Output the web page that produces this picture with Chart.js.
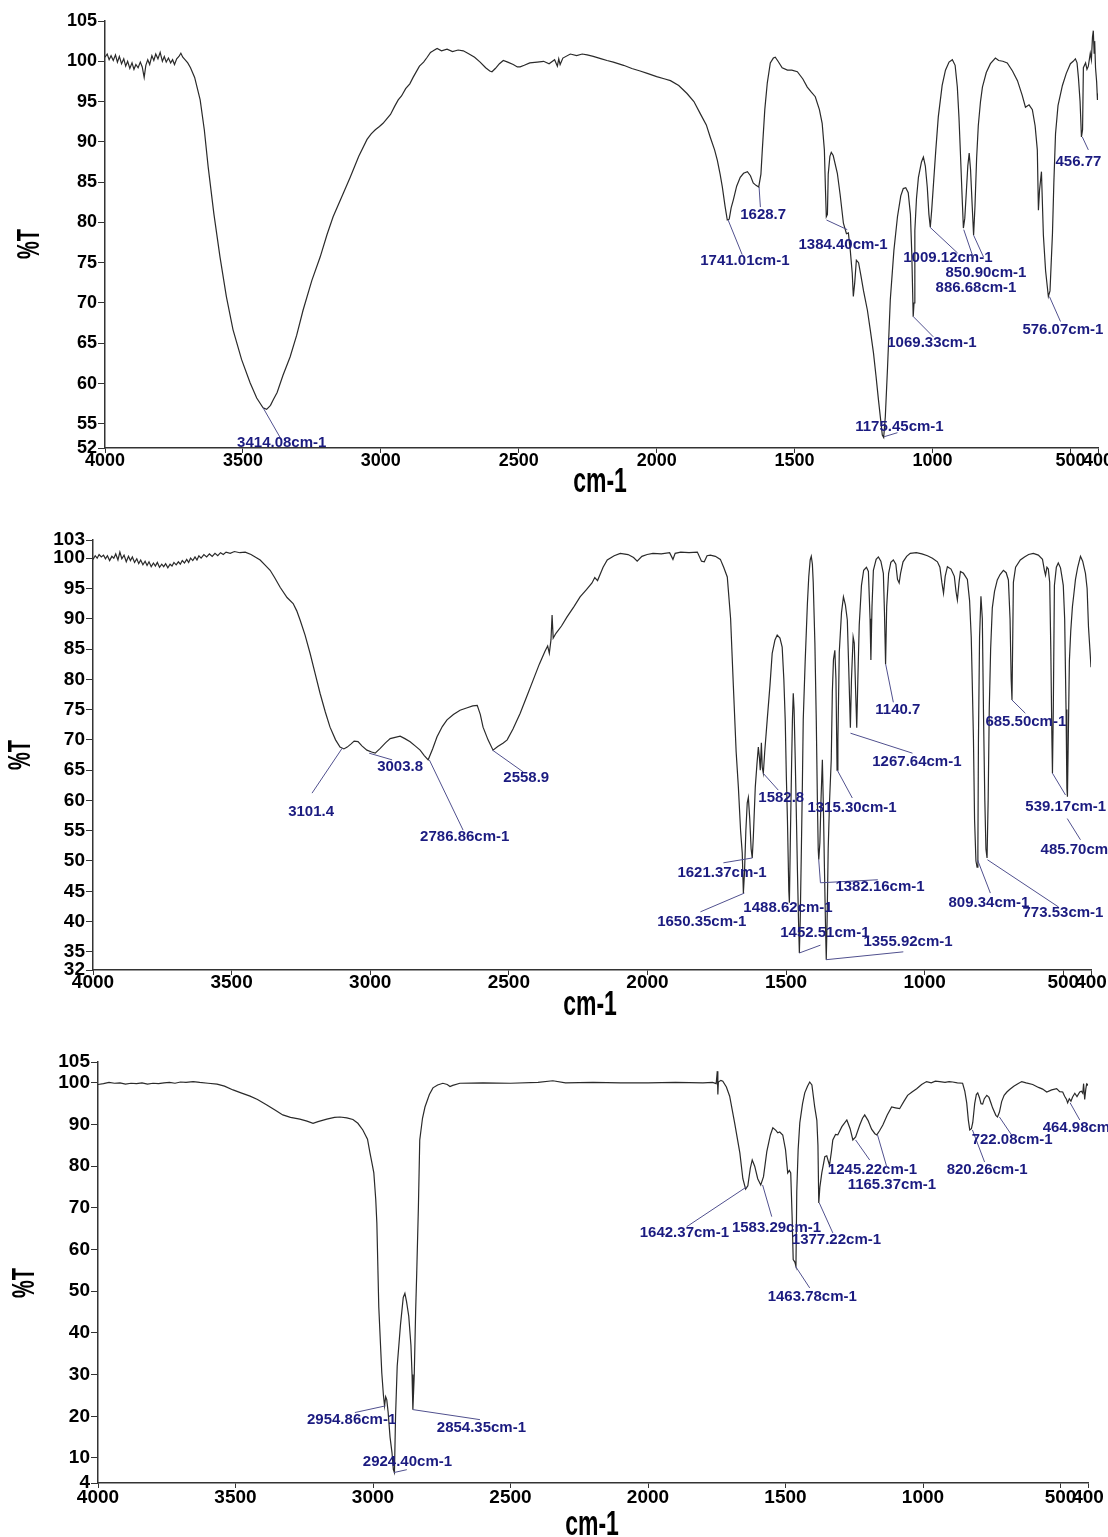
<!DOCTYPE html>
<html>
<head>
<meta charset="utf-8">
<title>FTIR spectra</title>
<script src="https://cdn.jsdelivr.net/npm/chart.js@4.4.1/dist/chart.umd.min.js"></script>
<style>
  html, body { margin: 0; padding: 0; background: #fff; }
  .panel { position: absolute; left: 0; width: 1108px; }
</style>
</head>
<body>
<div class="panel" style="top:0px"><canvas id="ir1" width="1108" height="512"></canvas></div>
<div class="panel" style="top:520px"><canvas id="ir2" width="1108" height="520"></canvas></div>
<div class="panel" style="top:1040px"><canvas id="ir3" width="1108" height="497"></canvas></div>
<script>
// x axis (wavenumber, cm-1) tick labels, shared by all three spectra
const xTicks = [4000, 3500, 3000, 2500, 2000, 1500, 1000, 500, 400];

// y axis (%T) ticks of each panel
const yTicks1 = [52, 55, 60, 65, 70, 75, 80, 85, 90, 95, 100, 105];
const yTicks2 = [32, 35, 40, 45, 50, 55, 60, 65, 70, 75, 80, 85, 90, 95, 100, 103];
const yTicks3 = [4, 10, 20, 30, 40, 50, 60, 70, 80, 90, 100, 105];

// spectrum 1: [wavenumber, %T]
const spectrum1 = [
  [4000,100.5],[3992,100.9],[3985,100.2],[3978,100.7],[3970,100.1],[3962,100.8],[3955,99.9],[3948,100.6],
  [3940,99.7],[3932,100.3],[3925,99.4],[3918,100.0],[3910,99.1],[3902,99.8],[3895,99.0],[3888,99.6],
  [3880,99.2],[3872,99.9],[3865,99.3],[3858,98.0],[3852,99.5],[3845,100.2],[3838,99.6],[3830,100.7],
  [3823,100.1],[3816,100.9],[3808,100.3],[3800,101.1],[3792,100.0],[3785,100.6],[3778,99.9],[3770,100.4],
  [3762,99.8],[3755,100.2],[3748,99.6],[3740,100.3],[3732,100.6],[3725,101.0],[3718,100.5],[3710,100.2],
  [3700,99.8],[3690,99.2],[3675,98.0],[3655,95.2],[3640,91.5],[3626,86.9],[3605,81.0],[3583,75.7],
  [3560,70.8],[3536,66.7],[3505,63.0],[3474,60.1],[3450,58.2],[3427,57.0],[3414,56.8],[3400,57.3],
  [3390,58.0],[3376,58.9],[3355,61.0],[3329,63.3],[3305,66.0],[3282,69.1],[3250,72.8],[3220,75.7],
  [3195,78.5],[3173,80.7],[3140,83.3],[3111,85.6],[3080,88.2],[3050,90.3],[3035,91.0],[3020,91.5],
  [3005,91.9],[2992,92.3],[2980,92.8],[2965,93.4],[2950,94.4],[2937,95.2],[2925,95.7],[2910,96.6],
  [2895,97.2],[2883,98.0],[2860,99.4],[2845,99.9],[2832,100.5],[2820,101.1],[2810,101.3],[2796,101.6],
  [2780,101.3],[2760,101.5],[2740,101.2],[2720,101.4],[2701,101.3],[2680,100.9],[2660,100.5],[2640,99.9],
  [2620,99.2],[2605,98.8],[2597,98.7],[2585,99.1],[2570,99.7],[2556,100.1],[2540,99.9],[2520,99.6],
  [2505,99.3],[2495,99.3],[2480,99.5],[2460,99.8],[2433,99.9],[2410,100.0],[2390,99.7],[2370,100.2],
  [2360,99.4],[2355,100.3],[2350,99.6],[2340,100.4],[2313,100.9],[2290,100.7],[2270,100.9],[2252,100.8],
  [2230,100.6],[2200,100.3],[2180,100.1],[2157,99.9],[2120,99.5],[2090,99.1],[2060,98.8],[2034,98.5],
  [2000,98.1],[1970,97.8],[1950,97.6],[1920,97.0],[1890,96.0],[1865,95.0],[1842,93.5],[1820,92.1],
  [1806,90.6],[1790,89.0],[1780,87.7],[1770,86.0],[1762,84.4],[1752,82.0],[1744,80.3],[1737,80.4],
  [1730,81.8],[1722,82.8],[1710,84.5],[1697,85.6],[1685,86.1],[1671,86.3],[1660,85.8],[1650,84.9],
  [1640,84.6],[1630,84.4],[1622,86.0],[1617,89.0],[1608,94.0],[1599,97.3],[1588,99.8],[1577,100.4],
  [1570,100.5],[1560,100.0],[1545,99.2],[1526,98.9],[1510,98.9],[1490,98.7],[1470,97.8],[1454,96.8],
  [1440,96.2],[1425,95.6],[1410,94.0],[1400,92.3],[1392,89.0],[1388,84.0],[1385,80.7],[1381,81.0],
  [1378,86.0],[1372,88.2],[1367,88.7],[1360,88.3],[1345,86.1],[1335,83.5],[1323,79.9],[1312,78.6],
  [1305,78.7],[1298,76.5],[1291,73.7],[1287,70.8],[1282,72.5],[1276,75.3],[1268,75.0],[1260,73.5],
  [1250,71.5],[1236,69.1],[1225,66.5],[1214,63.8],[1205,61.0],[1196,58.0],[1188,55.5],[1182,53.6],
  [1177,53.3],[1171,55.9],[1163,62.0],[1153,70.4],[1140,76.5],[1127,80.7],[1115,83.3],[1106,84.2],
  [1097,84.3],[1088,83.7],[1080,81.0],[1075,76.0],[1070,68.3],[1067,70.0],[1064,79.0],[1058,83.0],
  [1051,85.6],[1040,87.5],[1033,88.1],[1026,87.0],[1019,84.4],[1013,81.0],[1008,79.4],[1003,81.5],
  [997,84.5],[988,89.0],[979,93.1],[965,97.0],[953,98.9],[940,99.9],[928,100.2],[918,99.5],
  [910,96.8],[904,93.0],[899,88.8],[893,83.5],[888,79.3],[883,80.5],[877,84.0],[872,87.0],
  [867,88.6],[862,86.5],[856,82.0],[851,78.4],[846,82.0],[840,88.0],[834,92.0],[826,95.0],
  [819,96.8],[805,98.6],[790,99.7],[772,100.4],[760,100.1],[745,100.0],[729,99.8],[710,98.8],
  [692,97.6],[675,95.8],[663,94.3],[650,94.6],[638,94.0],[628,92.0],[620,89.0],[616,81.5],
  [612,84.0],[605,86.3],[598,78.4],[590,74.0],[580,70.8],[574,71.5],[565,78.7],[560,85.0],
  [554,91.0],[545,94.5],[529,97.0],[515,98.5],[500,99.7],[490,100.0],[482,100.3],[476,99.8],
  [471,98.0],[465,95.0],[460,90.6],[456,91.5],[453,99.2],[445,99.8],[440,99.0],[435,99.4],
  [428,101.0],[424,100.2],[420,103.0],[417,103.8],[414,101.0],[412,102.5],[409,99.2],[405,97.5],
  [402,95.2],[400,96.0]
];

// spectrum 2: [wavenumber, %T]
const spectrum2 = [
  [4000,99.8],[3992,100.4],[3985,100.0],[3978,100.6],[3970,100.2],[3962,100.5],[3955,99.9],[3948,100.4],
  [3940,99.6],[3932,100.3],[3925,100.0],[3918,100.7],[3910,99.7],[3903,101.0],[3896,99.9],[3888,100.5],
  [3880,99.4],[3872,100.3],[3865,99.6],[3858,100.2],[3850,99.3],[3842,99.9],[3835,99.1],[3828,99.7],
  [3820,98.9],[3812,99.5],[3805,98.8],[3798,99.4],[3790,98.6],[3782,99.2],[3775,98.7],[3768,99.3],
  [3760,98.5],[3752,99.0],[3745,98.6],[3738,99.1],[3730,98.4],[3722,99.0],[3715,98.7],[3708,99.3],
  [3700,98.9],[3692,99.4],[3685,99.0],[3678,99.6],[3670,99.2],[3662,99.8],[3655,99.3],[3648,100.0],
  [3640,99.6],[3632,100.2],[3625,99.7],[3618,100.4],[3610,100.0],[3600,100.6],[3590,100.2],[3580,100.7],
  [3570,100.3],[3560,100.8],[3550,100.4],[3540,100.9],[3530,100.6],[3520,101.0],[3505,100.8],[3490,101.1],
  [3470,100.9],[3451,101.0],[3430,100.6],[3415,100.2],[3397,99.7],[3380,98.9],[3361,98.0],[3345,96.8],
  [3325,95.2],[3300,93.5],[3278,92.5],[3265,91.3],[3253,89.8],[3235,87.3],[3217,84.3],[3200,81.2],
  [3181,77.7],[3162,74.6],[3145,72.1],[3125,70.0],[3109,68.8],[3095,68.5],[3083,68.8],[3070,69.3],
  [3058,69.8],[3044,69.7],[3030,69.0],[3012,68.3],[2995,68.0],[2982,67.8],[2964,68.6],[2945,69.5],
  [2928,70.2],[2910,70.4],[2892,70.6],[2875,70.2],[2856,69.7],[2838,69.0],[2820,68.3],[2805,67.4],
  [2791,66.7],[2775,68.5],[2759,70.5],[2740,72.2],[2723,73.3],[2700,74.2],[2676,74.9],[2650,75.3],
  [2630,75.6],[2614,75.7],[2603,74.2],[2593,72.1],[2575,70.0],[2557,68.3],[2540,68.9],[2520,69.5],
  [2506,70.0],[2485,71.8],[2459,74.4],[2435,77.2],[2412,79.9],[2390,82.5],[2370,84.6],[2360,85.5],
  [2354,84.3],[2348,86.5],[2344,90.6],[2340,86.8],[2330,87.6],[2310,88.8],[2290,90.3],[2265,92.0],
  [2243,93.6],[2220,94.8],[2200,95.9],[2190,96.8],[2180,96.3],[2160,98.5],[2145,99.7],[2120,100.4],
  [2098,100.8],[2070,100.6],[2050,100.1],[2037,99.5],[2020,100.3],[2001,100.6],[1980,100.8],[1950,100.7],
  [1920,100.9],[1908,99.8],[1900,100.8],[1880,101.0],[1850,100.9],[1820,101.0],[1805,99.5],[1795,99.4],
  [1785,100.4],[1773,100.5],[1755,100.3],[1737,99.8],[1725,98.5],[1712,96.9],[1700,90.0],[1690,78.8],
  [1680,68.0],[1672,62.2],[1664,55.0],[1658,51.3],[1654,44.7],[1650,48.0],[1645,55.0],[1640,59.6],
  [1636,60.5],[1631,57.0],[1626,52.0],[1622,50.5],[1618,54.0],[1611,62.2],[1605,66.0],[1600,68.8],
  [1596,67.0],[1593,65.0],[1589,69.5],[1586,65.5],[1582,64.5],[1577,68.0],[1568,73.3],[1558,79.0],
  [1550,84.3],[1540,86.5],[1532,87.3],[1522,86.8],[1514,85.3],[1508,80.0],[1503,73.3],[1499,64.0],
  [1495,56.8],[1490,45.0],[1488,43.1],[1484,55.0],[1480,66.0],[1477,73.3],[1474,77.7],[1471,75.0],
  [1467,67.0],[1463,58.0],[1459,48.5],[1455,40.0],[1452,34.8],[1449,40.0],[1445,51.2],[1441,63.0],
  [1438,73.3],[1431,83.0],[1423,92.5],[1418,97.0],[1413,99.7],[1409,100.3],[1405,99.0],[1402,96.0],
  [1396,86.0],[1391,73.3],[1387,60.0],[1384,52.0],[1382,50.2],[1378,53.0],[1374,60.0],[1369,66.7],
  [1365,58.0],[1362,50.0],[1358,40.0],[1355,33.7],[1352,40.0],[1348,52.0],[1343,60.0],[1337,66.7],
  [1333,78.0],[1329,83.2],[1324,84.8],[1320,80.0],[1316,65.0],[1313,70.0],[1308,84.5],[1300,91.0],
  [1293,93.6],[1286,92.3],[1279,89.8],[1274,82.0],[1268,72.0],[1264,80.0],[1258,87.0],[1254,86.0],
  [1249,78.0],[1245,72.0],[1241,80.0],[1236,89.0],[1228,95.5],[1220,98.0],[1210,98.5],[1203,97.8],
  [1197,90.0],[1194,83.2],[1190,92.0],[1185,98.0],[1175,99.8],[1167,100.2],[1158,99.5],[1149,97.5],
  [1145,91.0],[1141,82.5],[1137,92.0],[1130,97.5],[1122,99.3],[1113,99.7],[1104,99.0],[1098,96.5],
  [1092,95.9],[1087,97.5],[1078,99.4],[1065,100.3],[1052,100.8],[1030,100.9],[1010,100.7],[990,100.4],
  [972,100.0],[954,99.4],[945,98.5],[938,96.0],[932,94.2],[926,97.0],[918,98.6],[905,98.2],
  [893,97.0],[887,94.5],[882,93.1],[876,96.0],[871,97.8],[860,97.5],[846,96.5],[838,93.0],
  [832,87.0],[828,78.8],[824,70.0],[820,56.8],[815,50.0],[811,49.0],[808,52.0],[806,70.0],
  [802,87.0],[797,93.7],[792,90.0],[788,75.0],[783,60.0],[779,52.0],[775,50.5],[771,60.0],
  [767,75.0],[762,85.0],[756,91.8],[748,94.5],[738,96.4],[728,97.3],[716,98.0],[706,97.6],
  [698,96.4],[692,90.0],[688,80.0],[685,76.6],[682,88.0],[680,96.0],[672,98.5],[655,99.7],
  [640,100.2],[625,100.6],[608,100.8],[590,100.5],[575,99.8],[568,98.0],[564,97.2],[559,98.5],
  [554,98.2],[549,96.0],[545,85.0],[541,70.0],[539,64.5],[536,75.0],[532,95.5],[525,98.5],
  [518,99.2],[510,98.4],[505,97.0],[500,95.5],[495,90.0],[490,75.0],[487,62.0],[485,60.6],
  [482,70.0],[478,83.0],[473,88.0],[467,92.0],[462,94.0],[456,96.5],[448,98.5],[438,100.3],
  [430,99.5],[420,97.5],[414,95.0],[409,88.6],[404,85.0],[400,82.0]
];

// spectrum 3: [wavenumber, %T]
const spectrum3 = [
  [4000,99.6],[3980,99.8],[3960,100.1],[3940,99.9],[3920,100.0],[3900,99.7],[3880,99.9],[3860,99.8],
  [3840,100.0],[3820,99.7],[3800,99.9],[3780,99.8],[3760,100.0],[3740,100.1],[3720,99.9],[3700,100.2],
  [3680,100.1],[3654,100.3],[3630,100.1],[3600,99.9],[3567,99.7],[3540,99.2],[3509,98.3],[3480,97.6],
  [3447,96.8],[3420,96.0],[3386,94.7],[3355,93.4],[3328,92.3],[3300,91.7],[3266,91.3],[3240,90.8],
  [3218,90.3],[3200,90.7],[3168,91.3],[3140,91.7],[3120,91.8],[3095,91.6],[3073,91.2],[3055,90.3],
  [3037,88.7],[3020,86.5],[3011,83.2],[3003,80.5],[2997,78.4],[2990,72.0],[2986,66.4],[2979,46.3],
  [2968,30.4],[2962,25.0],[2958,22.5],[2954,24.7],[2950,24.0],[2945,21.0],[2938,15.0],[2931,11.3],
  [2926,7.2],[2922,6.5],[2918,20.0],[2912,32.0],[2900,42.0],[2890,48.5],[2884,49.5],[2878,47.5],
  [2870,44.0],[2862,37.0],[2858,30.0],[2855,21.6],[2850,30.0],[2845,45.0],[2841,54.4],[2835,70.0],
  [2830,86.3],[2820,91.5],[2811,94.2],[2795,97.2],[2782,98.8],[2765,99.5],[2746,99.9],[2730,99.6],
  [2720,99.1],[2710,99.4],[2684,99.9],[2600,100.0],[2500,99.9],[2400,100.1],[2346,100.5],[2300,100.0],
  [2200,100.1],[2100,100.0],[2000,100.0],[1900,100.1],[1800,100.0],[1765,100.1],[1752,99.8],[1748,102.8],
  [1746,97.2],[1744,100.2],[1735,100.6],[1728,100.4],[1715,99.0],[1703,96.8],[1685,90.4],[1666,83.2],
  [1655,77.0],[1645,74.5],[1637,75.3],[1628,79.5],[1621,81.5],[1612,80.0],[1601,77.0],[1590,75.5],
  [1580,77.5],[1568,83.5],[1555,87.5],[1546,89.2],[1535,88.6],[1528,88.0],[1521,88.2],[1510,87.5],
  [1500,84.0],[1492,78.4],[1486,79.0],[1481,78.4],[1476,68.0],[1472,57.6],[1466,57.0],[1462,56.0],
  [1459,74.0],[1454,84.0],[1448,90.4],[1438,95.0],[1430,97.6],[1420,99.2],[1412,100.2],[1404,99.5],
  [1394,94.3],[1386,91.0],[1382,85.0],[1379,71.2],[1375,75.0],[1368,78.4],[1362,80.5],[1357,82.3],
  [1350,82.5],[1340,80.2],[1333,83.5],[1328,86.3],[1318,87.6],[1310,87.5],[1295,89.5],[1277,91.1],
  [1265,89.0],[1255,86.3],[1245,87.0],[1230,89.9],[1220,91.5],[1212,92.3],[1200,91.0],[1187,88.9],
  [1175,87.8],[1168,87.5],[1158,88.5],[1146,89.9],[1130,92.3],[1114,94.2],[1100,94.0],[1085,93.8],
  [1070,95.5],[1056,97.0],[1040,97.8],[1023,98.6],[1005,99.6],[987,100.3],[970,100.0],[955,100.4],
  [939,100.3],[920,100.1],[905,100.3],[892,100.2],[875,100.0],[856,99.9],[848,98.0],[841,95.2],
  [835,91.0],[830,88.7],[824,89.0],[819,90.5],[812,95.0],[806,97.2],[801,97.6],[795,96.5],
  [789,95.0],[783,94.9],[777,96.2],[768,97.0],[760,96.5],[752,95.0],[747,94.0],[735,92.2],
  [729,91.8],[722,93.0],[714,95.5],[705,97.0],[695,97.8],[685,98.4],[670,99.2],[655,99.8],
  [641,100.3],[625,100.0],[601,99.6],[580,98.9],[565,98.5],[550,97.8],[532,98.3],[514,98.6],
  [503,97.9],[492,97.8],[485,96.8],[478,96.0],[474,95.2],[468,96.2],[462,95.6],[456,96.6],
  [448,97.5],[440,96.7],[430,97.8],[424,98.0],[419,97.5],[416,99.8],[412,96.0],[408,98.5],
  [405,99.7],[402,99.5],[400,99.8]
];

// peak labels: text, leader line (wavenumber, %T points), text anchor (left, middle)
const peaks1 = [
  { text: '3414.08cm-1', line: [[3427, 57.0], [3365, 53.3]], at: [3521, 52.7] },
  { text: '1741.01cm-1', line: [[1741, 80.3], [1690, 76.0]], at: [1842, 75.2] },
  { text: '1628.7', line: [[1628.7, 84.4], [1624, 81.9]], at: [1697, 80.9] },
  { text: '1384.40cm-1', line: [[1384.4, 80.3], [1309, 79.1]], at: [1486, 77.2] },
  { text: '1175.45cm-1', line: [[1175.45, 53.4], [1127, 53.9]], at: [1280, 54.6] },
  { text: '1069.33cm-1', line: [[1069.33, 68.3], [997, 65.8]], at: [1164, 65.1] },
  { text: '1009.12cm-1', line: [[1009.12, 79.4], [909, 76.2]], at: [1106, 75.6] },
  { text: '850.90cm-1', line: [[850.9, 78.4], [815, 75.7]], at: [953, 73.7] },
  { text: '886.68cm-1', line: [[886.68, 79.1], [852, 75.6]], at: [989, 71.9] },
  { text: '576.07cm-1', line: [[576.07, 70.8], [536, 67.7]], at: [674, 66.7] },
  { text: '456.77', line: [[456.77, 90.6], [435, 89.0]], at: [554, 87.5] }
];
const peaks2 = [
  { text: '3101.4', line: [[3101.4, 68.6], [3210, 61.2]], at: [3296, 58.1] },
  { text: '3003.8', line: [[3003.8, 67.8], [2921, 66.7]], at: [2975, 65.5] },
  { text: '2786.86cm-1', line: [[2786.86, 66.7], [2665, 55.1]], at: [2820, 54.0] },
  { text: '2558.9', line: [[2558.9, 68.3], [2448, 64.7]], at: [2520, 63.7] },
  { text: '1621.37cm-1', line: [[1621.37, 50.5], [1726, 49.7]], at: [1892, 48.0] },
  { text: '1650.35cm-1', line: [[1650.35, 44.7], [1809, 41.6]], at: [1965, 39.9] },
  { text: '1582.8', line: [[1582.8, 64.5], [1528, 61.7]], at: [1600, 60.4] },
  { text: '1488.62cm-1', line: [], at: [1654, 42.2] },
  { text: '1452.51cm-1', line: [[1452.51, 34.8], [1376, 36.1]], at: [1521, 38.1] },
  { text: '1355.92cm-1', line: [[1355.92, 33.7], [1077, 35.0]], at: [1221, 36.6] },
  { text: '1382.16cm-1', line: [[1382.16, 50.2], [1376, 46.4], [1169, 46.9]], at: [1322, 45.7] },
  { text: '1315.30cm-1', line: [[1315.3, 65.0], [1261, 60.4]], at: [1423, 58.7] },
  { text: '1267.64cm-1', line: [[1267.64, 71.1], [1044, 67.8]], at: [1189, 66.3] },
  { text: '1140.7', line: [[1140.7, 82.5], [1113, 76.2]], at: [1178, 74.9] },
  { text: '685.50cm-1', line: [[685.5, 76.6], [637, 74.4]], at: [781, 72.9] },
  { text: '539.17cm-1', line: [[539.17, 64.5], [492, 60.9]], at: [637, 58.9] },
  { text: '485.70cm-1', line: [[485.7, 57.0], [438, 53.5]], at: [582, 51.8] },
  { text: '809.34cm-1', line: [[809.34, 50.2], [763, 44.7]], at: [914, 43.1] },
  { text: '773.53cm-1', line: [[773.53, 50.2], [517, 42.4]], at: [647, 41.4] }
];
const peaks3 = [
  { text: '2954.86cm-1', line: [[2954.86, 22.5], [3066, 20.9]], at: [3240, 19.2] },
  { text: '2924.40cm-1', line: [[2924.4, 6.5], [2877, 7.2]], at: [3037, 9.1] },
  { text: '2854.35cm-1', line: [[2854.35, 21.6], [2611, 19.2]], at: [2768, 17.3] },
  { text: '1642.37cm-1', line: [[1642.37, 75.0], [1859, 65.5]], at: [2030, 64.0] },
  { text: '1583.29cm-1', line: [[1583.29, 75.5], [1550, 67.9]], at: [1695, 65.2] },
  { text: '1377.22cm-1', line: [[1377.22, 71.2], [1328, 64.0]], at: [1477, 62.4] },
  { text: '1463.78cm-1', line: [[1463.78, 56.0], [1412, 50.8]], at: [1565, 48.7] },
  { text: '1245.22cm-1', line: [[1245.22, 86.3], [1194, 81.5]], at: [1346, 79.1] },
  { text: '1165.37cm-1', line: [[1165.37, 87.5], [1132, 79.9]], at: [1274, 75.5] },
  { text: '820.26cm-1', line: [[820.26, 88.7], [776, 81.0]], at: [914, 79.1] },
  { text: '722.08cm-1', line: [[722.08, 91.8], [678, 87.5]], at: [823, 86.3] },
  { text: '464.98cm-1', line: [[464.98, 95.2], [430, 91.1]], at: [565, 89.2] }
];

const FONT = '"Liberation Sans", Arial, Helvetica, sans-serif';

// draws the blue peak labels and their leader lines through the chart scales
const peakLabels = (items) => ({
  id: 'peakLabels',
  afterDatasetsDraw(chart) {
    const { ctx, scales: { x, y } } = chart;
    ctx.save();
    ctx.strokeStyle = '#50508e';
    ctx.lineWidth = 1;
    ctx.fillStyle = '#1b1b80';
    ctx.font = 'bold 15px ' + FONT;
    ctx.textBaseline = 'middle';
    ctx.textAlign = 'left';
    items.forEach(p => {
      if (p.line.length) {
        ctx.beginPath();
        p.line.forEach(([wn, t], i) => {
          const px = x.getPixelForValue(wn), py = y.getPixelForValue(t);
          if (i === 0) ctx.moveTo(px, py); else ctx.lineTo(px, py);
        });
        ctx.stroke();
      }
      ctx.fillText(p.text, x.getPixelForValue(p.at[0]), y.getPixelForValue(p.at[1]));
    });
    ctx.restore();
  }
});

// axis titles, drawn tall and narrow like the instrument's print-out
const axisTitles = (box) => ({
  id: 'axisTitles',
  afterDraw(chart) {
    const ctx = chart.ctx;
    ctx.save();
    ctx.fillStyle = '#000';
    ctx.textAlign = 'center';
    ctx.textBaseline = 'middle';
    ctx.font = 'bold 23px ' + FONT;
    ctx.translate(box.xTitle[0], box.xTitle[1]);
    ctx.scale(1, 1.55);
    ctx.fillText('cm-1', 0, 0);
    ctx.restore();

    ctx.save();
    ctx.fillStyle = '#000';
    ctx.textAlign = 'center';
    ctx.textBaseline = 'middle';
    ctx.font = 'bold 20px ' + FONT;
    ctx.translate(box.yTitle[0], box.yTitle[1]);
    ctx.rotate(-Math.PI / 2);
    ctx.scale(1, 1.6);
    ctx.fillText('%T', 0, 0);
    ctx.restore();
  }
});

function makeChart(id, series, yTicks, peaks, box) {
  const tickFont = { family: FONT, size: box.tickSize, weight: 'bold' };
  return new Chart(document.getElementById(id), {
    type: 'line',
    data: {
      datasets: [{
        data: series.map(([wn, t]) => ({ x: wn, y: t })),
        borderColor: '#2a2a2a',
        borderWidth: 1.2,
        pointRadius: 0,
        tension: 0,
        fill: false
      }]
    },
    options: {
      responsive: false,
      animation: false,
      events: [],
      layout: { padding: { top: box.padTop, right: box.padRight, bottom: 0, left: 0 } },
      plugins: { legend: { display: false }, tooltip: { enabled: false } },
      scales: {
        x: {
          type: 'linear',
          reverse: true,
          min: 400,
          max: 4000,
          afterBuildTicks: s => { s.ticks = xTicks.map(v => ({ value: v })); },
          afterFit: s => { s.height = box.xHeight; s.paddingLeft = 0; s.paddingRight = 0; },
          ticks: { autoSkip: false, maxRotation: 0, font: tickFont, color: '#000', padding: box.xTickPad, callback: v => v },
          grid: { drawOnChartArea: false, tickLength: 5, color: '#333' },
          border: { color: '#333', width: 1.5 },
          title: { display: false }
        },
        y: {
          min: yTicks[0],
          max: yTicks[yTicks.length - 1],
          afterBuildTicks: s => { s.ticks = yTicks.map(v => ({ value: v })); },
          afterFit: s => { s.width = box.yWidth; s.paddingTop = 0; s.paddingBottom = 0; },
          ticks: { autoSkip: false, font: tickFont, color: '#000', padding: 1, callback: v => v },
          grid: { drawOnChartArea: false, tickLength: 7, color: '#333' },
          border: { color: '#333', width: 1.5 },
          title: { display: false }
        }
      }
    },
    plugins: [peakLabels(peaks), axisTitles(box)]
  });
}

makeChart('ir1', spectrum1, yTicks1, peaks1, {
  padTop: 21, padRight: 10, yWidth: 105, xHeight: 64, tickSize: 18, xTickPad: -3,
  xTitle: [600, 482], yTitle: [30, 244]
});
makeChart('ir2', spectrum2, yTicks2, peaks2, {
  padTop: 20, padRight: 17, yWidth: 93, xHeight: 70, tickSize: 19, xTickPad: -4,
  xTitle: [590, 485], yTitle: [21, 235]
});
makeChart('ir3', spectrum3, yTicks3, peaks3, {
  padTop: 22, padRight: 20, yWidth: 98, xHeight: 54, tickSize: 19, xTickPad: -2,
  xTitle: [592, 485], yTitle: [25, 243]
});
</script>
</body>
</html>
